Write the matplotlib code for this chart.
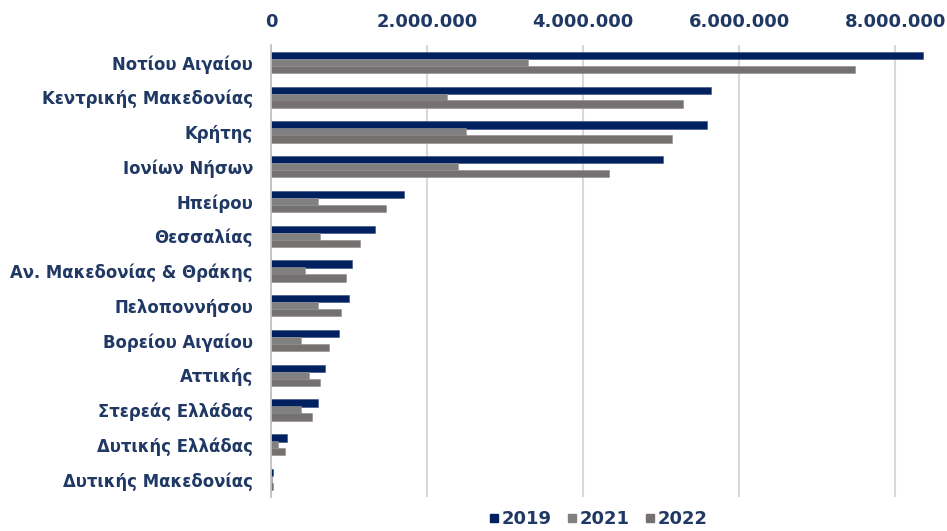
import matplotlib
matplotlib.use("Agg")
import matplotlib.pyplot as plt
from matplotlib.ticker import FuncFormatter, MultipleLocator
from matplotlib.lines import Line2D
import numpy as np

categories = ["Νοτίου Αιγαίου", "Κεντρικής Μακεδονίας", "Κρήτης", "Ιονίων Νήσων",
              "Ηπείρου", "Θεσσαλίας", "Αν. Μακεδονίας & Θράκης", "Πελοποννήσου",
              "Βορείου Αιγαίου", "Αττικής", "Στερεάς Ελλάδας", "Δυτικής Ελλάδας",
              "Δυτικής Μακεδονίας"]
v2019 = [8360000, 5640000, 5590000, 5030000, 1710000, 1330000, 1040000, 1000000,
         870000, 690000, 600000, 200000, 30000]
v2021 = [3290000, 2260000, 2500000, 2400000, 600000, 630000, 440000, 600000,
         380000, 490000, 380000, 90000, 10000]
v2022 = [7490000, 5280000, 5140000, 4330000, 1470000, 1140000, 960000, 900000,
         740000, 630000, 530000, 180000, 20000]
series_labels = ["2019", "2021", "2022"]

navy = "#002060"
c2021 = "#808080"
c2022 = "#767171"
txt = "#1F3864"

plt.rcParams['font.family'] = ['DejaVu Sans']
fig = plt.figure(figsize=(9.47, 5.31), dpi=100)
ax = fig.add_axes([271/947, 1 - 497/531, (942 - 271)/947, (497 - 45)/531])

y = np.arange(len(categories))
h = 0.21
ax.barh(y - 0.2, v2019, height=h, color=navy, edgecolor="#3a4f80", linewidth=0.4, zorder=3)
ax.barh(y + 0.0, v2021, height=h, color=c2021, edgecolor="#9a9a9a", linewidth=0.4, zorder=3)
ax.barh(y + 0.2, v2022, height=h, color=c2022, edgecolor="#8f8b8b", linewidth=0.4, zorder=3)

ax.set_ylim(len(categories) - 0.5, -0.5)
ax.set_xlim(0, 8600000)
ax.set_yticks(y)
ax.set_yticklabels(categories, fontsize=11.9, fontweight='bold', color=txt)
ax.tick_params(axis='y', length=0, pad=13)

ax.xaxis.set_major_locator(MultipleLocator(2000000))
ax.xaxis.set_major_formatter(FuncFormatter(lambda v, p: f"{int(v):,}".replace(",", ".")))
ax.xaxis.tick_top()
ax.tick_params(axis='x', length=0, pad=10, labelsize=13, labelcolor=txt)
for lab in ax.get_xticklabels():
    lab.set_fontweight('bold')

ax.grid(axis='x', color="#D9D9D9", linewidth=1.5, zorder=0)
for s in ['top', 'right', 'bottom']:
    ax.spines[s].set_visible(False)
ax.spines['left'].set_color("#BFBFBF")
ax.spines['left'].set_linewidth(1.2)
ax.spines['left'].set_zorder(4)

handles = [Line2D([], [], marker='s', linestyle='none', markersize=6, color=c)
           for c in (navy, c2021, c2022)]
leg = fig.legend(handles, series_labels, loc='center', bbox_to_anchor=(597/947, 1 - 519/531),
                 ncol=3, frameon=False, handletextpad=0.05, handlelength=0.8,
                 columnspacing=0.7, prop={'size': 13, 'weight': 'bold'})
for t in leg.get_texts():
    t.set_color(txt)

fig.savefig("out.png", dpi=100)
